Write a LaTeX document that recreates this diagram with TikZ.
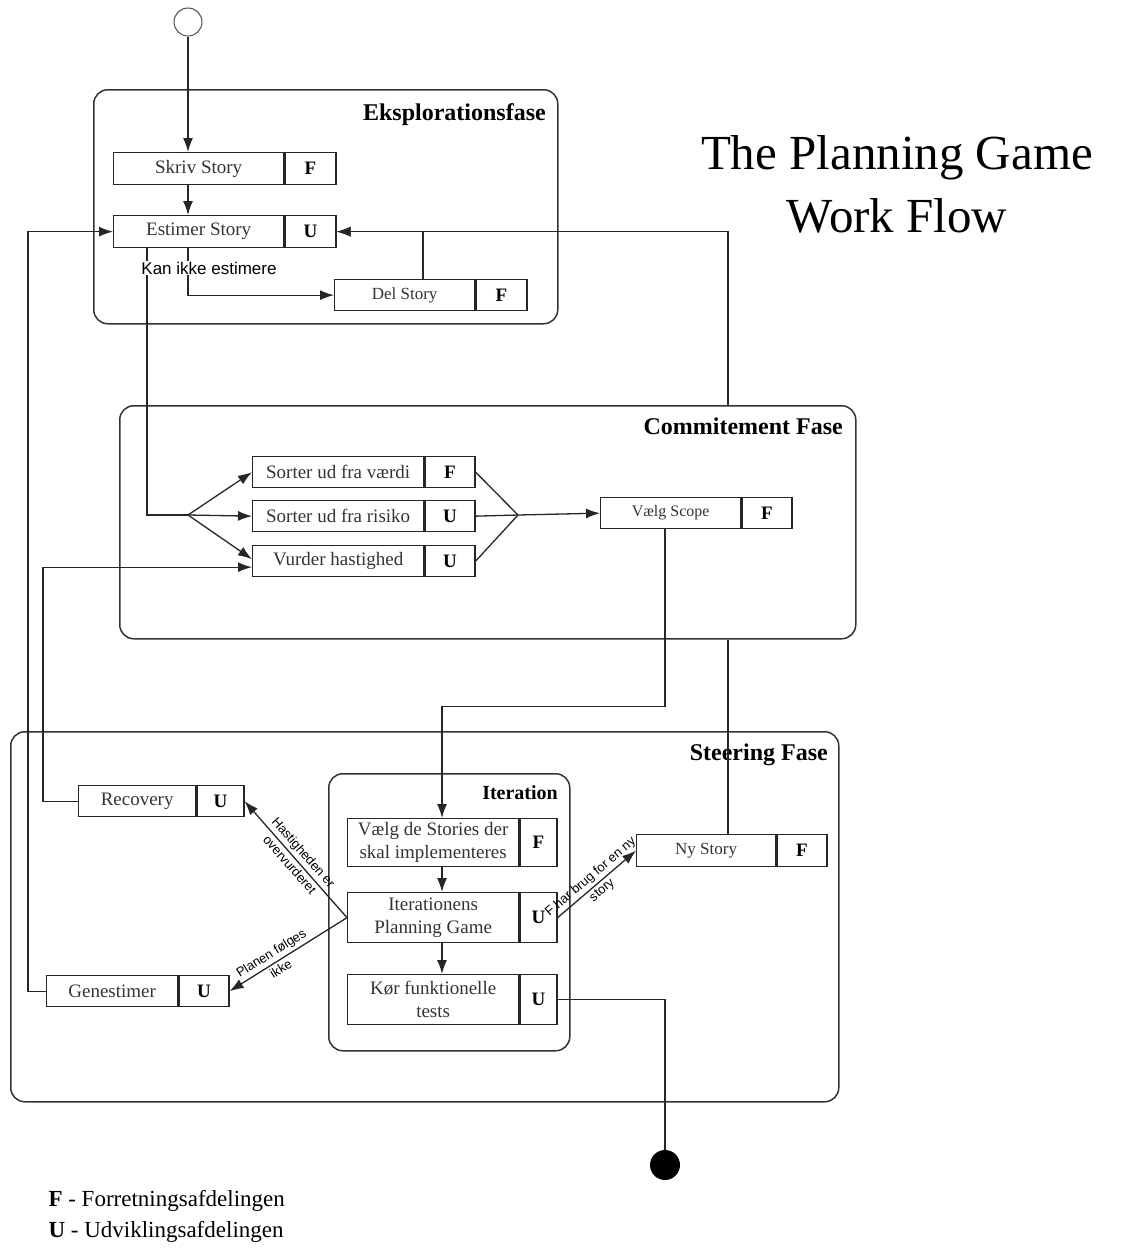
\documentclass[tikz,border=0pt]{standalone}
\usepackage{fontspec}
\setmainfont{Liberation Serif}
\newfontfamily\labelfont{Liberation Sans}
\usetikzlibrary{arrows.meta,calc}

% activity box: [font size]{name}{x}{y}{text width}{role width}{height}{text}{role letter}
\newcommand\actbox[9][19]{%
  \node[act, minimum width=#5pt, minimum height=#7pt, font=\fontsize{#1}{23}\selectfont] (#2) at (#3,#4) {#8};
  \node[role, minimum width=#6pt, minimum height=#7pt] (#2r) at (#2.north east) {#9};}

\begin{document}
\begin{tikzpicture}[x=1pt,y=-1pt,
  act/.style={draw=black!85, line width=1.3pt, anchor=north west, inner sep=0pt, text=black!80, align=center},
  role/.style={act, text=black, font=\bfseries\fontsize{19}{23}\selectfont},
  phase/.style={draw=black!80, line width=1.5pt, rounded corners=14pt, anchor=north west, inner sep=0pt},
  phasetitle/.style={anchor=east, inner sep=0pt, font=\bfseries\fontsize{24}{28}\selectfont},
  flow/.style={line width=1.3pt, draw=black!85},
  arr/.style={flow, -{Latex[length=14pt,width=10pt]}},
  cond/.style={font=\labelfont\fontsize{13}{13}\selectfont, sloped, inner sep=2.5pt}]
\useasboundingbox (0,0) rectangle (1128,1254);

% phase containers
\node[phase, minimum width=464pt, minimum height=234pt] (eksp) at (93,89) {};
\node[phase, minimum width=736pt, minimum height=233pt] (commit) at (119,405) {};
\node[phase, minimum width=828pt, minimum height=370pt] (steer) at (10,731) {};
\node[phase, minimum width=241pt, minimum height=277pt] (iterbox) at (328,773) {};
\node[phasetitle] (eksptitle) at (546,115) {Eksplorationsfase};
\node[phasetitle] (committitle) at (843,426) {Commitement Fase};
\node[phasetitle] (steertitle) at (828,755) {Steering Fase};
\node[phasetitle, font=\bfseries\fontsize{20}{24}\selectfont] (itertitle) at (558,793) {Iteration};

% title
\node[font=\fontsize{49}{63}\selectfont, align=center] (title) at (897,184) {The Planning Game\\Work Flow};

% start and end
\node[circle, draw=black!70, line width=1pt, minimum size=28pt, inner sep=0pt] (start) at (188,22) {};
\node[circle, fill=black, minimum size=30pt, inner sep=0pt] (endc) at (665,1165) {};

% activities
\actbox{skriv}{113}{152}{170}{51}{32}{Skriv Story}{F}
\actbox{est}{113}{215}{170}{51}{32}{Estimer Story}{U}
\actbox[17]{del}{334}{279}{140}{51}{31}{Del Story}{F}
\actbox{vaerdi}{252}{456}{171}{50}{31}{Sorter ud fra værdi}{F}
\actbox{risiko}{252}{500}{171}{50}{31}{Sorter ud fra risiko}{U}
\actbox{vurder}{252}{545}{171}{50}{31}{Vurder hastighed}{U}
\actbox[16]{scope}{600}{497}{140}{50}{31}{Vælg Scope}{F}
\actbox{rec}{78}{785}{117}{47}{31}{Recovery}{U}
\actbox{gen}{46}{975}{131}{50}{31}{Genestimer}{U}
\actbox{vs}{347}{818}{171}{37}{48}{Vælg de Stories der\\skal implementeres}{F}
\actbox{iter}{347}{892}{171}{37}{50}{Iterationens\\Planning Game}{U}
\actbox{kor}{347}{974}{171}{37}{50}{Kør funktionelle\\tests}{U}
\actbox[17]{ny}{636}{834}{139}{50}{32}{Ny Story}{F}

\coordinate (fork) at (188,515);
\coordinate (join) at (518,515);
\coordinate (nytop) at ($(ny.north west)+(92,0)$);

% exploration flow
\draw[arr] (start.south) -- ($(skriv.north west)+(75,0)$);
\draw[arr] ($(skriv.south west)+(75,0)$) -- ($(est.north west)+(75,0)$);
\draw[arr] ($(est.south west)+(75,0)$) |- (del.west);
\draw[arr] ($(del.north west)+(89,0)$) |- (estr.east);
\draw[flow] (nytop) -- (nytop |- commit.south);
\draw[arr] (nytop |- commit.north) |- (estr.east);

% commitment flow
\draw[flow] ($(est.south west)+(34,0)$) |- (fork);
\draw[arr] (fork) -- (vaerdi.west);
\draw[arr] (fork) -- (risiko.west);
\draw[arr] (fork) -- ([yshift=2pt]vurder.west);
\draw[flow] (vaerdir.east) -- (join);
\draw[flow] (risikor.east) -- (join);
\draw[flow] (vurderr.east) -- (join);
\draw[arr] (join) -- (scope.west);
\draw[arr] ($(scope.south west)+(65,0)$) -- ++(0,177) -| ($(vs.north west)+(95,0)$);

% iteration flow
\draw[arr] ($(vs.south west)+(95,0)$) -- ($(iter.north west)+(95,0)$);
\draw[arr] ($(iter.south west)+(95,0)$) -- ($(kor.north west)+(95,0)$);
\draw[flow] (korr.east) -| (endc.north);

% steering branches
\draw[arr] (iter.west) -- node[cond, above] {Hastigheden er} node[cond, below] {overvurderet} (recr.east);
\draw[arr] (iter.west) -- node[cond, above, pos=0.6] {Planen følges} node[cond, below, pos=0.6] {ikke} (genr.east);
\draw[arr] (iterr.east) -- node[cond, above] {F har brug for en ny} node[cond, below] {story} (ny.west);
\draw[arr] (rec.west) -- ++(-35,0) |- ([yshift=-6pt]vurder.west);
\draw[arr] (gen.west) -- ++(-18,0) |- (est.west);

\node[fill=white, inner sep=1pt, font=\labelfont\fontsize{17}{17}\selectfont] (kanikke) at (209,268) {Kan ikke estimere};

% legend
\node[anchor=west, font=\fontsize{23}{27}\selectfont] (legf) at (45,1201) {{\bfseries F} - Forretningsafdelingen};
\node[anchor=west, font=\fontsize{23}{27}\selectfont] (legu) at (45,1232) {{\bfseries U} - Udviklingsafdelingen};
\end{tikzpicture}
\end{document}
